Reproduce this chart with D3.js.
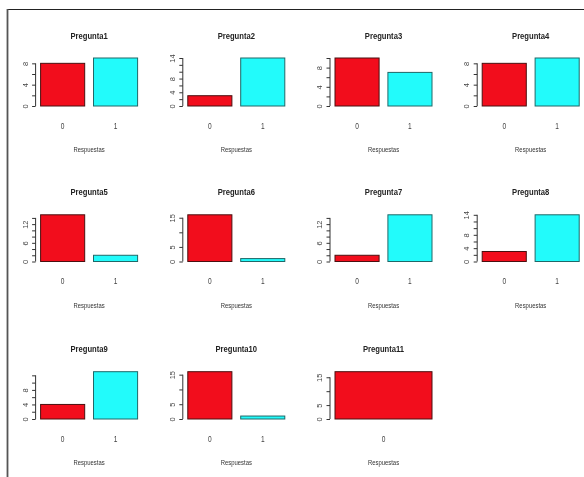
<!DOCTYPE html>
<html>
<head>
<meta charset="utf-8">
<script src="https://cdn.jsdelivr.net/npm/d3@7"></script>
<style>
  html, body { margin: 0; padding: 0; background: #fff; }
  svg { display: block; will-change: transform; }
</style>
</head>
<body>
<svg id="chart" width="584" height="477"></svg>
<script>
// Answer counts per question (category "0" and "1")
const questions = ["Pregunta1","Pregunta2","Pregunta3","Pregunta4","Pregunta5","Pregunta6",
                   "Pregunta7","Pregunta8","Pregunta9","Pregunta10","Pregunta11"];
const categories = [["0","1"],["0","1"],["0","1"],["0","1"],["0","1"],["0","1"],
                    ["0","1"],["0","1"],["0","1"],["0","1"],["0"]];
const counts = [[8,9],[3,14],[10,7],[8,9],[15,2],[16,1],[2,15],[3,14],[4,13],[16,1],[17]];
// Y axis ticks and the subset of ticks that carry a label
const yTicks = [
  [0,2,4,6,8],[0,2,4,6,8,10,12,14],[0,2,4,6,8,10],[0,2,4,6,8],
  [0,2,4,6,8,10,12,14],[0,5,10,15],[0,2,4,6,8,10,12,14],[0,2,4,6,8,10,12,14],
  [0,2,4,6,8,10,12],[0,5,10,15],[0,5,10,15]
];
const yLabels = [
  [0,4,8],[0,4,8,14],[0,4,8],[0,4,8],
  [0,6,12],[0,5,15],[0,6,12],[0,4,8,14],
  [0,4,8],[0,5,15],[0,5,15]
];
const xTitle = "Respuestas";
const barColors = ["#f20d1c", "#22fbfb"];

const svg = d3.select("#chart");
const font = "'Liberation Sans', Arial, sans-serif";

// outer frame (top and left edges)
svg.append("line").attr("x1", 7).attr("x2", 584).attr("y1", 9.5).attr("y2", 9.5)
  .attr("stroke", "#222").attr("stroke-width", 1.2);
svg.append("line").attr("x1", 7.5).attr("x2", 7.5).attr("y1", 9).attr("y2", 477)
  .attr("stroke", "#555").attr("stroke-width", 1.8);

const colLeft = c => 40.6 + c * 147.2;
const rowBase = [106, 261.5, 419];
const rowTop = [58, 214.8, 371.7];
const plotW = 97;

questions.forEach((q, i) => {
  const row = Math.floor(i / 4), col = i % 4;
  const left = colLeft(col);
  const base = rowBase[row], top = rowTop[row];
  const vals = counts[i];
  const cats = categories[i];
  const n = vals.length;

  // barplot geometry: width 1, space 0.2
  const x = d3.scaleLinear().domain([0.2, 0.2 + n * 1.2 - 0.2]).range([left, left + plotW]);
  const y = d3.scaleLinear().domain([0, d3.max(vals)]).range([base, top]);

  const g = svg.append("g");

  g.selectAll("rect").data(vals).join("rect")
    .attr("x", (d, k) => x(0.2 + k * 1.2))
    .attr("width", (d, k) => x(1.2 + k * 1.2) - x(0.2 + k * 1.2))
    .attr("y", d => y(d))
    .attr("height", d => y(0) - y(d))
    .attr("fill", (d, k) => barColors[k])
    .attr("stroke", (d, k) => k === 0 ? "#4a1010" : "#206868")
    .attr("stroke-width", 1);

  // y axis
  const axisX = left - 5;
  const labelSet = new Set(yLabels[i]);
  const ax = g.append("g").attr("transform", `translate(${axisX},0)`)
    .call(d3.axisLeft(y).tickValues(yTicks[i]).tickSize(3.5).tickSizeOuter(0)
      .tickFormat(d => labelSet.has(d) ? d : ""));
  ax.select(".domain").remove();
  const ticks = yTicks[i];
  ax.append("line").attr("x1", 0).attr("x2", 0)
    .attr("y1", y(ticks[0])).attr("y2", y(ticks[ticks.length - 1]))
    .attr("stroke", "#333").attr("stroke-width", 1);
  ax.selectAll(".tick line").attr("stroke", "#333").attr("stroke-width", 1);
  ax.selectAll(".tick text")
    .attr("transform", "rotate(-90)")
    .attr("x", 0).attr("y", -8).attr("dy", 0)
    .attr("text-anchor", "middle")
    .attr("font-family", font).attr("font-size", 7.5)
    .attr("fill", "#444");

  // category labels under the bars
  cats.forEach((c, k) => {
    const cx = (x(0.2 + k * 1.2) + x(1.2 + k * 1.2)) / 2;
    g.append("text")
      .attr("transform", `translate(${cx},${base + 22.5}) scale(0.75,1)`)
      .attr("text-anchor", "middle")
      .attr("font-family", font).attr("font-size", 8.8)
      .attr("fill", "#444")
      .text(c);
  });

  const mid = (x.range()[0] + x.range()[1]) / 2;
  // axis title
  g.append("text")
    .attr("transform", `translate(${mid},${base + 46}) scale(0.74,1)`)
    .attr("text-anchor", "middle")
    .attr("font-family", font).attr("font-size", 8)
    .attr("fill", "#333")
    .text(xTitle);

  // panel title
  g.append("text")
    .attr("transform", `translate(${mid},${base - 67}) scale(0.78,1)`)
    .attr("text-anchor", "middle")
    .attr("font-family", font).attr("font-size", 9.8).attr("font-weight", "bold")
    .attr("fill", "#222")
    .text(q);
});
</script>
</body>
</html>
